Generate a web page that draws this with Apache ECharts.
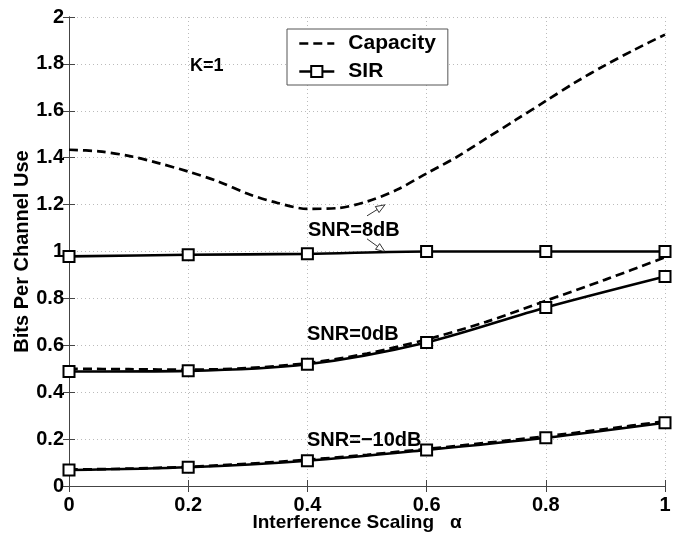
<!DOCTYPE html>
<html>
<head>
<meta charset="utf-8">
<script src="https://cdn.jsdelivr.net/npm/echarts@6/dist/echarts.min.js"></script>
<style>
  html, body { margin: 0; padding: 0; background: #fff; }
  #chart { width: 679px; height: 535px; }
</style>
</head>
<body>
<div id="chart"></div>
<script>
// Interference scaling sample points
const alphaFine = [0, 0.05, 0.1, 0.15, 0.2, 0.25, 0.3, 0.35, 0.4, 0.45, 0.5,
                   0.55, 0.6, 0.65, 0.7, 0.75, 0.8, 0.85, 0.9, 0.95, 1];
const alphaTenth = [0, 0.1, 0.2, 0.3, 0.4, 0.5, 0.6, 0.7, 0.8, 0.9, 1];
const alphaMarks = [0, 0.2, 0.4, 0.6, 0.8, 1];

// Capacity (dashed) per SNR
const capacity8dB = [1.434, 1.427, 1.408, 1.377, 1.341, 1.299, 1.246, 1.207, 1.182, 1.185, 1.213,
                     1.263, 1.333, 1.402, 1.482, 1.562, 1.642, 1.722, 1.795, 1.862, 1.925];
const capacity0dB = [0.500, 0.498, 0.496, 0.503, 0.524, 0.565, 0.625, 0.700, 0.790, 0.880, 0.975];
const capacityM10dB = [0.070, 0.074, 0.082, 0.095, 0.112, 0.133, 0.158, 0.184, 0.212, 0.243, 0.276];

// SIR rate (solid with square markers) per SNR
const sir8dB = [0.979, 0.986, 0.990, 1.000, 1.000, 1.000];
const sir0dB = [0.488, 0.491, 0.519, 0.612, 0.761, 0.893];
const sirM10dB = [0.068, 0.080, 0.108, 0.154, 0.206, 0.270];

// Axis ticks
const xTicks = [0, 0.2, 0.4, 0.6, 0.8, 1];
const yTicks = [0, 0.2, 0.4, 0.6, 0.8, 1, 1.2, 1.4, 1.6, 1.8, 2];

const FONT = '"Liberation Sans", Arial, Helvetica, sans-serif';
const pairs = (xs, ys) => xs.map((x, i) => [x, ys[i]]);

const dashed = [9, 5];

function capacitySeries(xs, ys) {
  return {
    name: 'Capacity',
    type: 'line',
    data: pairs(xs, ys),
    smooth: 0.3,
    symbol: 'none',
    z: 2,
    lineStyle: { color: '#000', width: 2.7, type: dashed },
    itemStyle: { color: '#000' },
    silent: true
  };
}

function sirSeries(ys) {
  return {
    name: 'SIR',
    type: 'line',
    data: pairs(alphaMarks, ys),
    smooth: 0.3,
    symbol: 'rect',
    symbolSize: 11,
    showAllSymbol: true,
    z: 3,
    lineStyle: { color: '#000', width: 2.6 },
    itemStyle: { color: '#fff', borderColor: '#000', borderWidth: 2 },
    silent: true
  };
}

const axisCommon = {
  type: 'value',
  min: 0,
  interval: 0.2,
  nameMoveOverlap: false,
  axisLine: { show: true, lineStyle: { color: '#444', width: 1 } },
  axisTick: { show: true, inside: true, length: 6, lineStyle: { color: '#444' } }
};

const chart = echarts.init(document.getElementById('chart'), null, { renderer: 'canvas' });

const option = {
  backgroundColor: '#fff',
  animation: false,
  grid: { left: 69, right: 14, top: 17, bottom: 49, containLabel: false, outerBoundsMode: 'none' },
  legend: {
    data: [
      { name: 'Capacity', itemStyle: { opacity: 0 } },
      { name: 'SIR' }
    ],
    orient: 'vertical',
    left: 287,
    top: 29,
    itemWidth: 35,
    itemHeight: 14,
    itemGap: 7,
    padding: [4, 12, 3, 11],
    borderColor: '#555',
    borderWidth: 1,
    backgroundColor: '#fff',
    selectedMode: false,
    lineStyle: { width: 2.6 },
    textStyle: {
      fontFamily: FONT, fontWeight: 'bold', fontSize: 21, color: '#000',
      lineHeight: 20, padding: [0, 0, 0, 9]
    }
  },
  xAxis: [
    Object.assign({}, axisCommon, {
      max: 1,
      position: 'bottom',
      name: 'Interference Scaling   \u03b1',
      nameLocation: 'middle',
      nameGap: 27,
      nameTextStyle: {
        fontFamily: FONT, fontWeight: 'bold', fontSize: 19, color: '#000',
        padding: [0, 20, 0, 0]
      },
      axisLabel: {
        margin: 9,
        fontFamily: FONT, fontWeight: 'bold', fontSize: 20, color: '#000',
        customValues: xTicks
      },
      splitLine: { show: true, lineStyle: { color: '#bbb', type: [1, 3], width: 1 } }
    }),
    Object.assign({}, axisCommon, {
      max: 1,
      position: 'top',
      axisLabel: { show: false },
      splitLine: { show: false }
    })
  ],
  yAxis: [
    Object.assign({}, axisCommon, {
      max: 2,
      position: 'left',
      name: 'Bits Per Channel Use',
      nameLocation: 'middle',
      nameGap: 37,
      nameTextStyle: { fontFamily: FONT, fontWeight: 'bold', fontSize: 20, color: '#000' },
      axisLabel: {
        margin: 5,
        fontFamily: FONT, fontWeight: 'bold', fontSize: 20, color: '#000',
        customValues: yTicks
      },
      splitLine: { show: true, lineStyle: { color: '#bbb', type: [1, 3], width: 1 } }
    }),
    Object.assign({}, axisCommon, {
      max: 2,
      position: 'right',
      axisLabel: { show: false },
      splitLine: { show: false }
    })
  ],
  series: [
    capacitySeries(alphaFine, capacity8dB),
    capacitySeries(alphaTenth, capacity0dB),
    capacitySeries(alphaTenth, capacityM10dB),
    sirSeries(sir8dB),
    sirSeries(sir0dB),
    sirSeries(sirM10dB)
  ]
};

chart.setOption(option);

// Curve annotations: labels and open-headed pointer arrows
const textStyle = (txt, x, y, size) => ({
  type: 'text',
  left: x,
  top: y,
  z: 10,
  style: {
    text: txt, fill: '#000',
    font: 'bold ' + size + 'px ' + FONT
  }
});

// pointer arrows in data coordinates: [fromX, fromY, toX, toY]
const pointers = [
  [0.500, 1.152, 0.530, 1.199],
  [0.500, 1.054, 0.530, 0.999]
];

const graphics = [
  textStyle('K=1', 190, 57, 18),
  textStyle('SNR=8dB', 308, 220, 20),
  textStyle('SNR=0dB', 307, 324, 20),
  textStyle('SNR=\u221210dB', 307, 430, 20)
];

pointers.forEach(p => {
  const a = chart.convertToPixel({ gridIndex: 0 }, [p[0], p[1]]);
  const b = chart.convertToPixel({ gridIndex: 0 }, [p[2], p[3]]);
  const dx = b[0] - a[0], dy = b[1] - a[1];
  const len = Math.sqrt(dx * dx + dy * dy);
  const ux = dx / len, uy = dy / len;
  const headLen = 9, headHalf = 3.5;
  const bx = b[0] - ux * headLen, by = b[1] - uy * headLen;
  graphics.push({
    type: 'line', z: 10,
    shape: { x1: a[0], y1: a[1], x2: bx, y2: by },
    style: { stroke: '#000', lineWidth: 0.8 }
  });
  graphics.push({
    type: 'polygon', z: 10,
    shape: {
      points: [
        [b[0], b[1]],
        [bx - uy * headHalf, by + ux * headHalf],
        [bx + uy * headHalf, by - ux * headHalf]
      ]
    },
    style: { fill: '#fff', stroke: '#000', lineWidth: 0.8 }
  });
});

chart.setOption({ graphic: graphics });
</script>
</body>
</html>
